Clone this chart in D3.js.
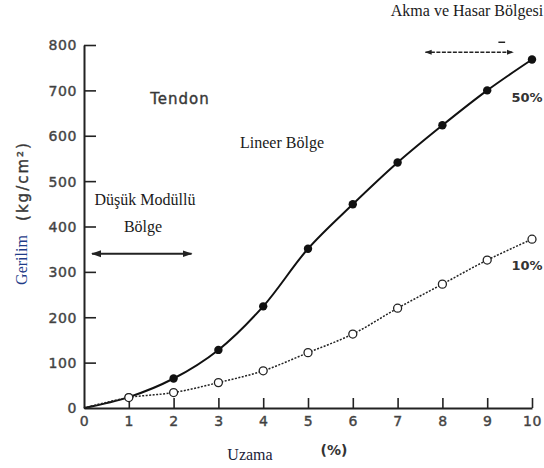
<!DOCTYPE html>
<html>
<head>
<meta charset="utf-8">
<script src="https://cdn.jsdelivr.net/npm/d3@7"></script>
<style>
  body { margin: 0; background: #fff; }
  svg { display: block; }
  .tick text { font-family: "DejaVu Sans", sans-serif; font-size: 14px; fill: #3a3a3a; stroke: #555; stroke-width: 0.45px; letter-spacing: 0.6px; }
  .serif { font-family: "Liberation Serif", "DejaVu Serif", serif; font-size: 16px; fill: #1a1a1a; }
  .sans { font-family: "DejaVu Sans", sans-serif; fill: #333; }
</style>
</head>
<body>
<svg id="chart" width="544" height="468"></svg>
<script>
// strain (%) and stress (kg/cm2)
var strain = [0, 1, 2, 3, 4, 5, 6, 7, 8, 9, 10];
var stress50 = [0, 24, 65, 128, 224, 351, 449, 541, 623, 700, 768];
var stress10 = [0, 23, 34, 56, 82, 122, 163, 220, 273, 326, 372];
var xTicks = [0, 1, 2, 3, 4, 5, 6, 7, 8, 9, 10];
var yTicks = [0, 100, 200, 300, 400, 500, 600, 700, 800];

var svg = d3.select("#chart");

var x = d3.scaleLinear().domain([0, 10]).range([84, 532]);
var y = d3.scaleLinear().domain([0, 800]).range([408, 45]);

// axes, ticks point inwards like the scanned figure
var xAxis = svg.append("g")
    .attr("transform", "translate(0," + y(0) + ")")
    .call(d3.axisBottom(x).tickValues(xTicks).tickSize(-10).tickSizeOuter(0).tickPadding(8));
var yAxis = svg.append("g")
    .attr("transform", "translate(" + x(0) + ",0)")
    .call(d3.axisLeft(y).tickValues(yTicks).tickSize(-12).tickSizeOuter(0).tickPadding(7));

[xAxis, yAxis].forEach(function (g) {
    g.select(".domain").attr("stroke", "#222").attr("stroke-width", 2);
    g.selectAll(".tick line").attr("stroke", "#222").attr("stroke-width", 1.6);
});
yAxis.selectAll(".tick text").attr("dy", "0.35em");
// hide the 0 tick marks on the corner
xAxis.selectAll(".tick").filter(d => d === 0).select("line").remove();
yAxis.selectAll(".tick").filter(d => d === 0).select("line").remove();

var pts50 = strain.map((s, i) => [s, stress50[i]]);
var pts10 = strain.map((s, i) => [s, stress10[i]]);

var line = d3.line()
    .x(d => x(d[0]))
    .y(d => y(d[1]))
    .curve(d3.curveCatmullRom);

svg.append("path")
    .datum(pts50)
    .attr("d", line)
    .attr("fill", "none")
    .attr("stroke", "#111")
    .attr("stroke-width", 2);

svg.append("path")
    .datum(pts10)
    .attr("d", line)
    .attr("fill", "none")
    .attr("stroke", "#222")
    .attr("stroke-width", 1.5)
    .attr("stroke-dasharray", "2,1.5");

svg.selectAll(".dot50")
    .data(pts50.slice(1))
    .enter().append("circle")
    .attr("cx", d => x(d[0]))
    .attr("cy", d => y(d[1]))
    .attr("r", 4.2)
    .attr("fill", "#111");

svg.selectAll(".dot10")
    .data(pts10.slice(1))
    .enter().append("circle")
    .attr("cx", d => x(d[0]))
    .attr("cy", d => y(d[1]))
    .attr("r", 4)
    .attr("fill", "#fff")
    .attr("stroke", "#222")
    .attr("stroke-width", 1.3);

// arrow heads
var defs = svg.append("defs");
defs.append("marker")
    .attr("id", "arr")
    .attr("viewBox", "0 0 10 10")
    .attr("refX", 9).attr("refY", 5)
    .attr("markerWidth", 5).attr("markerHeight", 5)
    .attr("orient", "auto-start-reverse")
    .append("path")
    .attr("d", "M0,1.5 L10,5 L0,8.5 Z")
    .attr("fill", "#222");

// low modulus region arrow
svg.append("line")
    .attr("x1", x(0.18)).attr("x2", x(2.4))
    .attr("y1", y(340)).attr("y2", y(340))
    .attr("stroke", "#222").attr("stroke-width", 2)
    .attr("marker-start", "url(#arr)")
    .attr("marker-end", "url(#arr)");

// yield region arrow
svg.append("line")
    .attr("x1", x(7.62)).attr("x2", x(9.58))
    .attr("y1", y(784)).attr("y2", y(784))
    .attr("stroke", "#222").attr("stroke-width", 1.4)
    .attr("stroke-dasharray", "4,1.5")
    .attr("marker-start", "url(#arr)")
    .attr("marker-end", "url(#arr)");
svg.append("line")
    .attr("x1", x(9.25)).attr("x2", x(9.4))
    .attr("y1", y(806)).attr("y2", y(806))
    .attr("stroke", "#222").attr("stroke-width", 1.5);

// texts
svg.append("text").attr("class", "sans")
    .attr("x", 180).attr("y", 104)
    .attr("text-anchor", "middle")
    .attr("font-size", 15).attr("letter-spacing", 1)
    .attr("stroke", "#444").attr("stroke-width", 0.4)
    .text("Tendon");

svg.append("text").attr("class", "serif")
    .attr("x", 282).attr("y", 148)
    .attr("text-anchor", "middle")
    .text("Lineer Bölge");

svg.append("text").attr("class", "serif")
    .attr("x", 145).attr("y", 205)
    .attr("text-anchor", "middle")
    .text("Düşük Modüllü");

svg.append("text").attr("class", "serif")
    .attr("x", 143).attr("y", 232)
    .attr("text-anchor", "middle")
    .text("Bölge");

svg.append("text").attr("class", "serif")
    .attr("x", 467).attr("y", 16)
    .attr("text-anchor", "middle")
    .text("Akma ve Hasar Bölgesi");

svg.append("text").attr("class", "sans")
    .attr("x", 527).attr("y", 102)
    .attr("text-anchor", "middle")
    .attr("font-size", 13).attr("font-weight", "bold").attr("fill", "#444")
    .text("50%");

svg.append("text").attr("class", "sans")
    .attr("x", 527).attr("y", 270)
    .attr("text-anchor", "middle")
    .attr("font-size", 13).attr("font-weight", "bold").attr("fill", "#444")
    .text("10%");

svg.append("text").attr("class", "serif")
    .attr("transform", "translate(27,260) rotate(-90)")
    .attr("text-anchor", "middle")
    .style("fill", "#1f3c88")
    .text("Gerilim");

svg.append("text").attr("class", "sans")
    .attr("transform", "translate(28,181) rotate(-90)")
    .attr("text-anchor", "middle")
    .attr("font-size", 15).attr("letter-spacing", 2)
    .attr("stroke", "#444").attr("stroke-width", 0.4)
    .text("(kg/cm²)");

svg.append("text").attr("class", "serif")
    .attr("x", 250).attr("y", 460)
    .attr("text-anchor", "middle")
    .style("fill", "#1a2238")
    .text("Uzama");

svg.append("text").attr("class", "sans")
    .attr("x", 334).attr("y", 455)
    .attr("text-anchor", "middle")
    .attr("font-size", 14).attr("font-weight", "bold").attr("fill", "#444")
    .text("(%)");
</script>
</body>
</html>
